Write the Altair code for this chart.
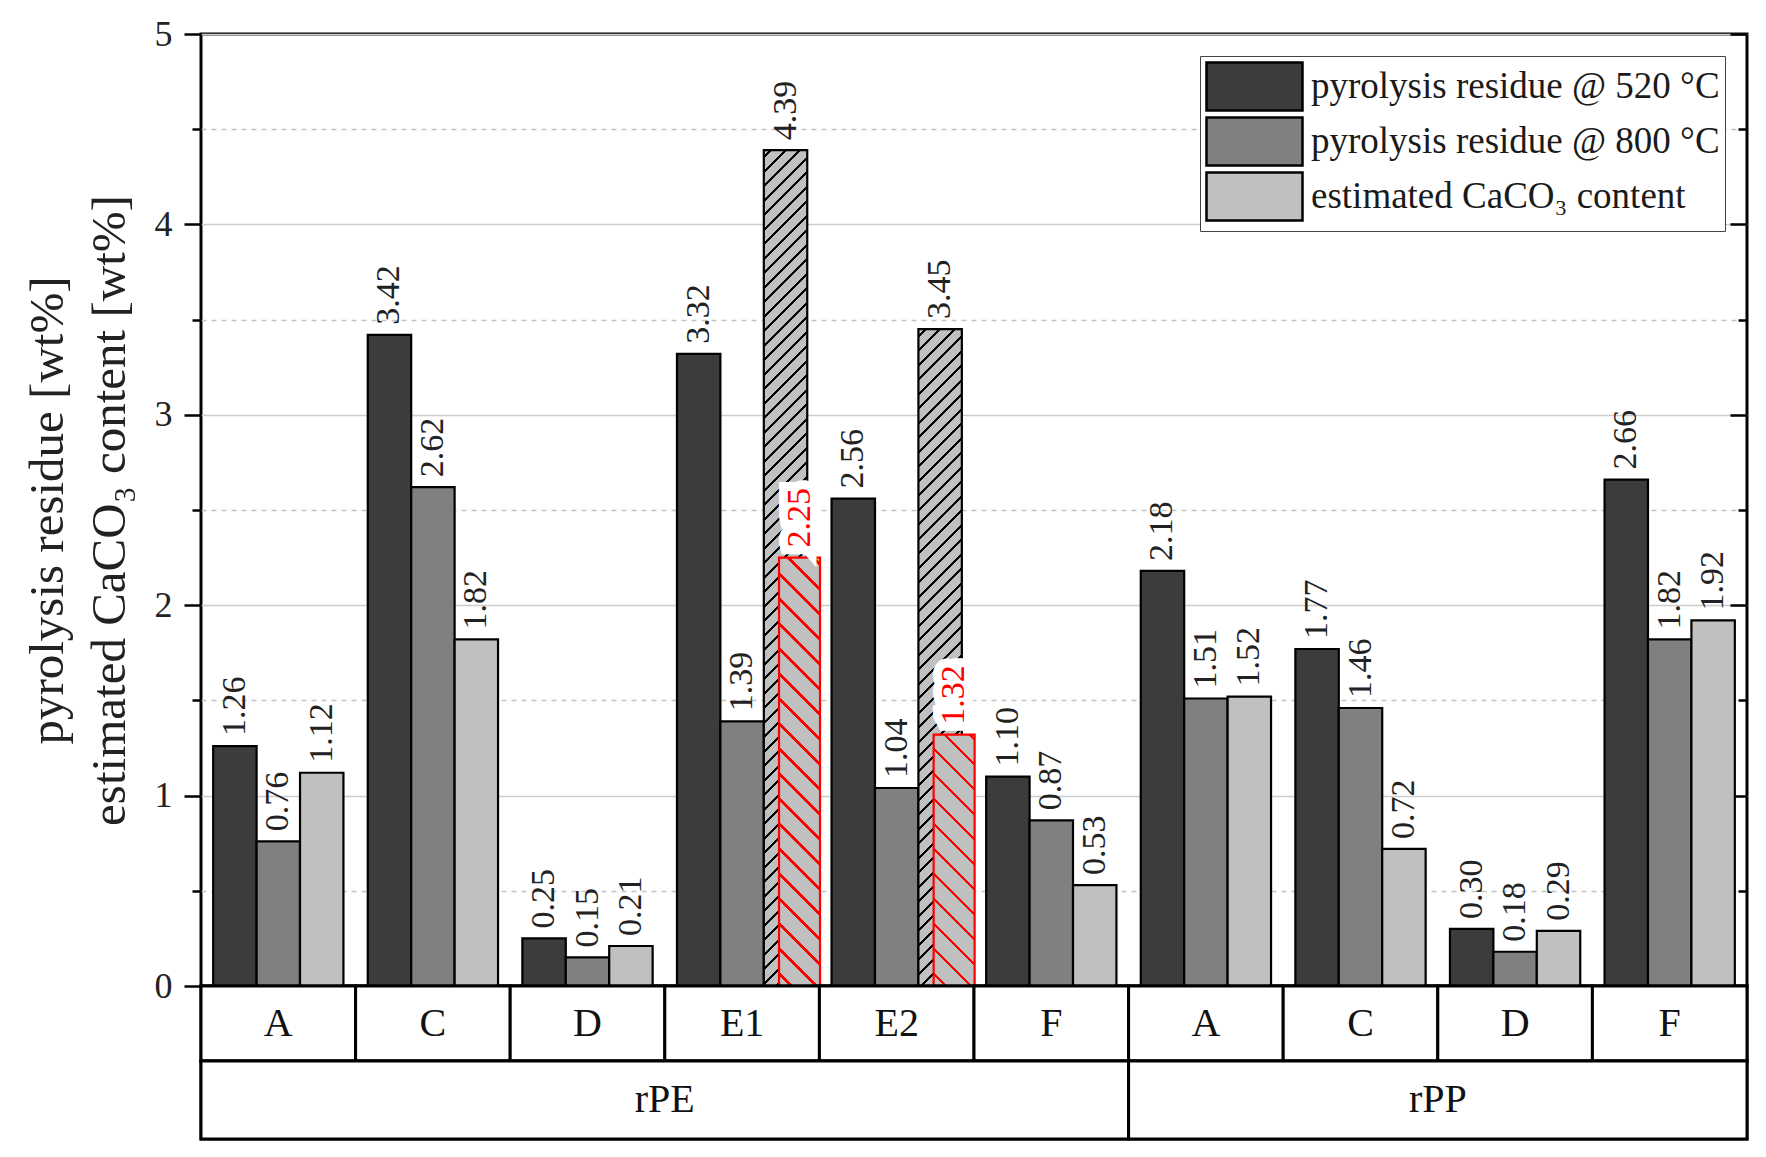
import math
import altair as alt
import pandas as pd

# ---------------- data ----------------
groups = ["rPE", "rPE", "rPE", "rPE", "rPE", "rPE", "rPP", "rPP", "rPP", "rPP"]
cats = ["A", "C", "D", "E1", "E2", "F", "A", "C", "D", "F"]
res520 = [1.26, 3.42, 0.25, 3.32, 2.56, 1.10, 2.18, 1.77, 0.30, 2.66]
res800 = [0.76, 2.62, 0.15, 1.39, 1.04, 0.87, 1.51, 1.46, 0.18, 1.82]
caco3 = [1.12, 1.82, 0.21, 4.39, 3.45, 0.53, 1.52, 0.72, 0.29, 1.92]
hatched_keys = ["rPE|E1", "rPE|E2"]          # CaCO3 bars drawn hatched
caco3_corrected = [2.25, 1.32]               # red overlay bars for E1, E2

series_names = ["pyrolysis residue @ 520 °C", "pyrolysis residue @ 800 °C",
                "estimated CaCO₃ content"]
series_colors = ["#3c3c3c", "#808080", "#c0c0c0"]
y_title = ["pyrolysis residue [wt%]", "estimated CaCO₃ content [wt%]"]

# ---------------- layout / style ----------------
FONT = "Liberation Serif"
W, H = 1546, 952
ROW1, ROW2 = 75, 78
PAD_OUT = 0.28
BAND = W / len(cats)
STEP = BAND / (3 + 2 * PAD_OUT)
RED_W = 41
RED_SHIFT = 14
RED_XOFF = PAD_OUT * STEP + 2.5 * STEP + RED_SHIFT - BAND / 2
SYM_H = 48  # legend symbol height; symbol is twice as wide

keys = [f"{g}|{c}" for g, c in zip(groups, cats)]
rows = []
for i, k in enumerate(keys):
    for s, vals in zip(series_names, [res520, res800, caco3]):
        rows.append(dict(key=k, group=groups[i], cat=cats[i], series=s,
                         value=vals[i],
                         hatched=bool(k in hatched_keys and s == series_names[2])))
df = pd.DataFrame(rows)
corr_df = pd.DataFrame(dict(key=hatched_keys, series=series_names[2],
                            value=caco3_corrected))


def hatch(w, h, spacing, thick, base, line, forward=True):
    """Striped linear gradient (objectBoundingBox) giving 45° hatching."""
    L = w + h
    r = w / h
    b = (1 + r) / (1 + r * r)
    a = r * b
    if forward:
        x1, y1, x2, y2 = 0, 0, a, b
    else:
        x1, y1, x2, y2 = 0, 1, a, 1 - b
    hw = thick * math.sqrt(2) / 2 / L
    stops = [{"offset": 0, "color": base}]
    k = 0
    while True:
        c = (k * spacing + spacing / 2) / L
        lo, hi = c - hw, c + hw
        if lo >= 1:
            break
        hi = min(hi, 1)
        stops += [{"offset": round(lo, 6), "color": base},
                  {"offset": round(lo, 6), "color": line},
                  {"offset": round(hi, 6), "color": line},
                  {"offset": round(hi, 6), "color": base}]
        k += 1
    stops.append({"offset": 1, "color": base})
    return {"gradient": "linear", "x1": x1, "y1": y1, "x2": x2, "y2": y2,
            "stops": stops}


ydom = alt.Scale(domain=[0, 5], nice=False, zero=True)
tick_vals = [i * 0.5 for i in range(11)]
is_int = "datum.value % 1 === 0"

x_enc = alt.X("key:N", sort=keys,
              scale=alt.Scale(domain=keys, paddingInner=0, paddingOuter=0),
              axis=None)
xo_enc = alt.XOffset("series:N", sort=series_names,
                     scale=alt.Scale(domain=series_names, paddingInner=0,
                                     paddingOuter=PAD_OUT))

left_axis = alt.Axis(
    values=tick_vals,
    labelExpr=f"{is_int} ? format(datum.value, 'd') : ''",
    labelFontSize=36, labelFont=FONT, labelColor="#222", labelPadding=12,
    tickSize={"condition": {"test": is_int, "value": 17}, "value": 9},
    tickWidth=2.5, tickColor="black", domain=False,
    grid=True,
    gridDash={"condition": {"test": is_int, "value": []}, "value": [5, 5]},
    gridColor={"condition": {"test": is_int, "value": "#cccccc"}, "value": "#c4c4c4"},
    gridWidth=1.5,
    title=y_title, titleFont=FONT, titleFontSize=49, titleFontWeight="normal",
    titleColor="#222", titleLineHeight=62, titlePadding=20,
)
right_axis = alt.Axis(
    orient="right", values=tick_vals, labels=False, grid=False, domain=False,
    title=None, offset=-17, tickSize=17, tickWidth=2.5, tickColor="black",
    tickDash={"condition": {"test": is_int, "value": []}, "value": [0, 8, 9]},
)

base = alt.Chart(df)

bars = base.transform_filter("!datum.hatched").mark_bar(
    stroke="black", strokeWidth=2.2
).encode(
    x=x_enc, xOffset=xo_enc,
    y=alt.Y("value:Q", scale=ydom, axis=left_axis, stack=None),
    color=alt.Color("series:N", sort=series_names,
                    scale=alt.Scale(domain=series_names, range=series_colors),
                    legend=alt.Legend(
                        title=None, orient="top-right", offset=22,
                        symbolType="M-1,-1H3V1H-1Z", symbolSize=SYM_H * SYM_H,
                        symbolStrokeColor="black", symbolStrokeWidth=2.5,
                        symbolOpacity=1,
                        labelFont=FONT, labelFontSize=37, labelColor="#1a1a1a",
                        labelOffset=SYM_H + 7, labelLimit=700, rowPadding=-8,
                        padding=5, strokeColor="#444", fillColor="white")),
)

layers = [bars]
for k in hatched_keys:
    v = caco3[keys.index(k)]
    g = hatch(STEP, v * H / 5, 14.5, 2.0, "#c0c0c0", "#000000", forward=True)
    layers.append(
        base.transform_filter(alt.datum.key == k).transform_filter("datum.hatched")
        .mark_bar(fill=g, stroke="black", strokeWidth=2.2)
        .encode(x=x_enc, xOffset=xo_enc,
                y=alt.Y("value:Q", scale=ydom, axis=None, stack=None))
    )

for k, v in zip(hatched_keys, caco3_corrected):
    g = hatch(RED_W, v * H / 5, 25, 2.2, "#c0c0c0", "#ff0000", forward=False)
    layers.append(
        alt.Chart(corr_df).transform_filter(alt.datum.key == k)
        .mark_bar(fill=g, stroke="#ff0000", strokeWidth=2.2, width=RED_W,
                  xOffset=RED_XOFF)
        .encode(x=x_enc, y=alt.Y("value:Q", scale=ydom, axis=None, stack=None))
    )

labels = base.mark_text(
    angle=270, align="left", baseline="middle", dx=10, fontSize=34,
    font=FONT, color="#222"
).encode(
    x=x_enc, xOffset=xo_enc,
    y=alt.Y("value:Q", scale=ydom, axis=right_axis, stack=None),
    text=alt.Text("value:Q", format=".2f"),
)
layers.append(labels)

red_halo = alt.Chart(corr_df).mark_text(
    angle=270, align="left", baseline="middle", dx=10, fontSize=34, font=FONT,
    color="white", stroke="white", strokeWidth=18, strokeJoin="miter",
    xOffset=RED_XOFF
).encode(x=x_enc, y=alt.Y("value:Q", scale=ydom, axis=None, stack=None),
         text=alt.Text("value:Q", format=".2f"))
red_text = alt.Chart(corr_df).mark_text(
    angle=270, align="left", baseline="middle", dx=10, fontSize=34, font=FONT,
    color="#ff0000", xOffset=RED_XOFF
).encode(x=x_enc, y=alt.Y("value:Q", scale=ydom, axis=None, stack=None),
         text=alt.Text("value:Q", format=".2f"))
layers += [red_halo, red_text]

top = alt.layer(*layers).resolve_scale(y="independent").properties(width=W, height=H)

# ---------------- category table ----------------
cat_df = pd.DataFrame(dict(key=keys, cat=cats))
cat_row = alt.layer(
    alt.Chart(cat_df).mark_rect(fill="white", stroke="black", strokeWidth=3)
    .encode(x=x_enc),
    alt.Chart(cat_df).mark_text(fontSize=40, font=FONT, color="#111")
    .encode(x=x_enc, text="cat:N"),
).properties(width=W, height=ROW1)

grp_names, grp_start, grp_end = [], [], []
for g in groups:
    if not grp_names or grp_names[-1] != g:
        grp_names.append(g)
        grp_start.append(groups.index(g))
        grp_end.append(groups.index(g) + groups.count(g))
grp_df = pd.DataFrame(dict(name=grp_names, start=grp_start, end=grp_end))
grp_df["mid"] = (grp_df["start"] + grp_df["end"]) / 2
gx = alt.Scale(domain=[0, len(keys)], nice=False, zero=False)
grp_row = alt.layer(
    alt.Chart(grp_df).mark_rect(fill="white", stroke="black", strokeWidth=3)
    .encode(x=alt.X("start:Q", scale=gx, axis=None), x2="end:Q"),
    alt.Chart(grp_df).mark_text(fontSize=40, font=FONT, color="#111")
    .encode(x=alt.X("mid:Q", scale=gx, axis=None), text="name:N"),
).properties(width=W, height=ROW2)

chart = alt.vconcat(top, cat_row, grp_row, spacing=0, bounds="flush").resolve_scale(
    x="independent"
).properties(
    padding={"left": 13, "top": 6, "right": 5, "bottom": 5}
).configure(font=FONT).configure_view(stroke="black", strokeWidth=3)

chart.save("out.html", embed_options={"renderer": "svg", "actions": False})
